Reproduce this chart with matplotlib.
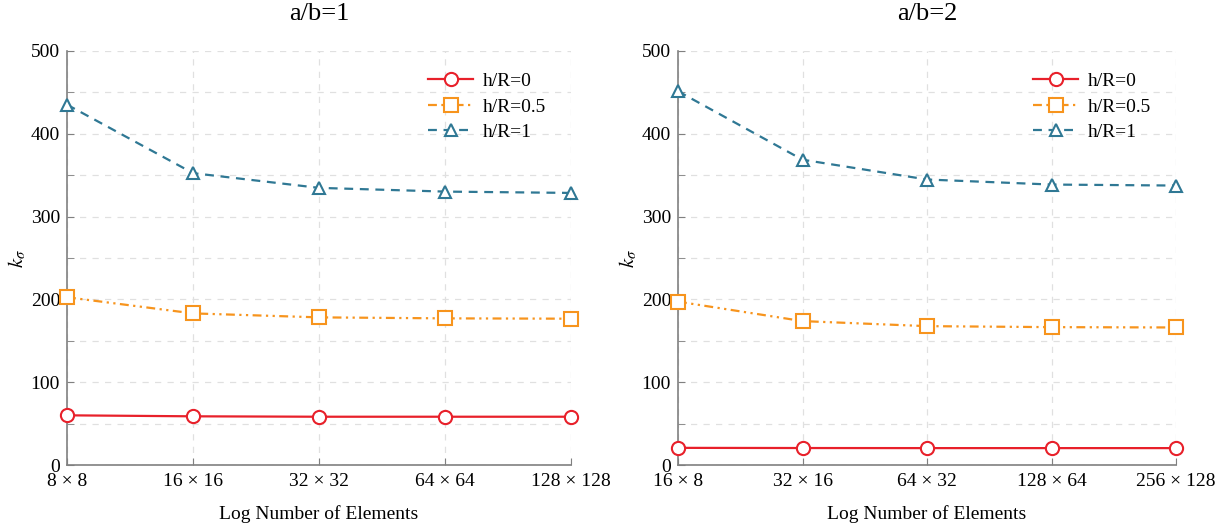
import matplotlib
matplotlib.use('Agg')
import matplotlib.pyplot as plt
import numpy as np

plt.rcParams['font.family'] = ['Liberation Serif', 'DejaVu Serif']
plt.rcParams['mathtext.fontset'] = 'stix'

# data
labels_1 = ['8 × 8', '16 × 16', '32 × 32', '64 × 64', '128 × 128']
labels_2 = ['16 × 8', '32 × 16', '64 × 32', '128 × 64', '256 × 128']

k_ab1_h0 = [60.0, 58.8, 58.3, 58.3, 58.3]
k_ab1_h05 = [202.6, 183.1, 178.3, 177.1, 176.7]
k_ab1_h1 = [435.2, 352.5, 334.7, 330.2, 328.6]

k_ab2_h0 = [20.7, 20.5, 20.4, 20.4, 20.4]
k_ab2_h05 = [197.3, 173.8, 167.7, 166.5, 166.1]
k_ab2_h1 = [451.4, 368.7, 344.8, 338.7, 337.5]

series_names = ['h/R=0', 'h/R=0.5', 'h/R=1']

red = '#E8202A'
orange = '#F7941D'
teal = '#2F7894'

fig = plt.figure(figsize=(12.31, 5.29), dpi=100)
ax1 = fig.add_axes([67/1231, 64/529, 504/1231, 414/529])
ax2 = fig.add_axes([678/1231, 64/529, 498/1231, 414/529])


def draw(ax, labels, h0, h05, h1, title):
    x = np.arange(len(labels))
    ax.plot(x, h0, color=red, lw=1.6, marker='o', ms=9.5, mfc='white', mew=1.5,
            label=series_names[0], clip_on=False, zorder=5)
    ax.plot(x, h05, color=orange, lw=1.6, marker='s', ms=9.5, mfc='white', mew=1.5,
            dashes=(4, 2, 1, 2, 1, 2), label=series_names[1], clip_on=False, zorder=5)
    ax.plot(x, h1, color=teal, lw=1.6, marker='^', ms=8.5, mfc='white', mew=1.5,
            dashes=(4, 3), label=series_names[2], clip_on=False, zorder=5)
    ax.set_xlim(0, len(labels) - 1)
    ax.set_ylim(0, 500)
    ax.set_xticks(x)
    ax.set_xticklabels(labels, fontsize=14)
    ax.set_yticks(range(0, 501, 100))
    ax.set_yticks(range(50, 501, 100), minor=True)
    ax.tick_params(axis='y', labelsize=14, direction='in', color='#808080', length=5, pad=5)
    ax.tick_params(axis='y', which='minor', direction='in', color='#808080', length=5)
    ax.tick_params(axis='x', direction='in', color='#808080', length=5, pad=6)
    for s in ['top', 'right']:
        ax.spines[s].set_visible(False)
    for s in ['left', 'bottom']:
        ax.spines[s].set_color('#808080')
        ax.spines[s].set_linewidth(1.2)
    ax.grid(True, which='both', color='#E0E0E0', ls=(0, (5, 5)), lw=0.9)
    ax.set_axisbelow(True)
    ax.set_title(title, fontsize=19, pad=22)
    ax.set_xlabel('Log Number of Elements', fontsize=14, labelpad=11)
    ax.set_ylabel(r'$k_\sigma$', fontsize=15, labelpad=2)
    ax.legend(loc='upper right', bbox_to_anchor=(0.985, 0.99), frameon=False,
              fontsize=14, handlelength=2.3, handletextpad=0.5, labelspacing=0.4)


draw(ax1, labels_1, k_ab1_h0, k_ab1_h05, k_ab1_h1, 'a/b=1')
draw(ax2, labels_2, k_ab2_h0, k_ab2_h05, k_ab2_h1, 'a/b=2')

fig.savefig('out.png', dpi=100)
